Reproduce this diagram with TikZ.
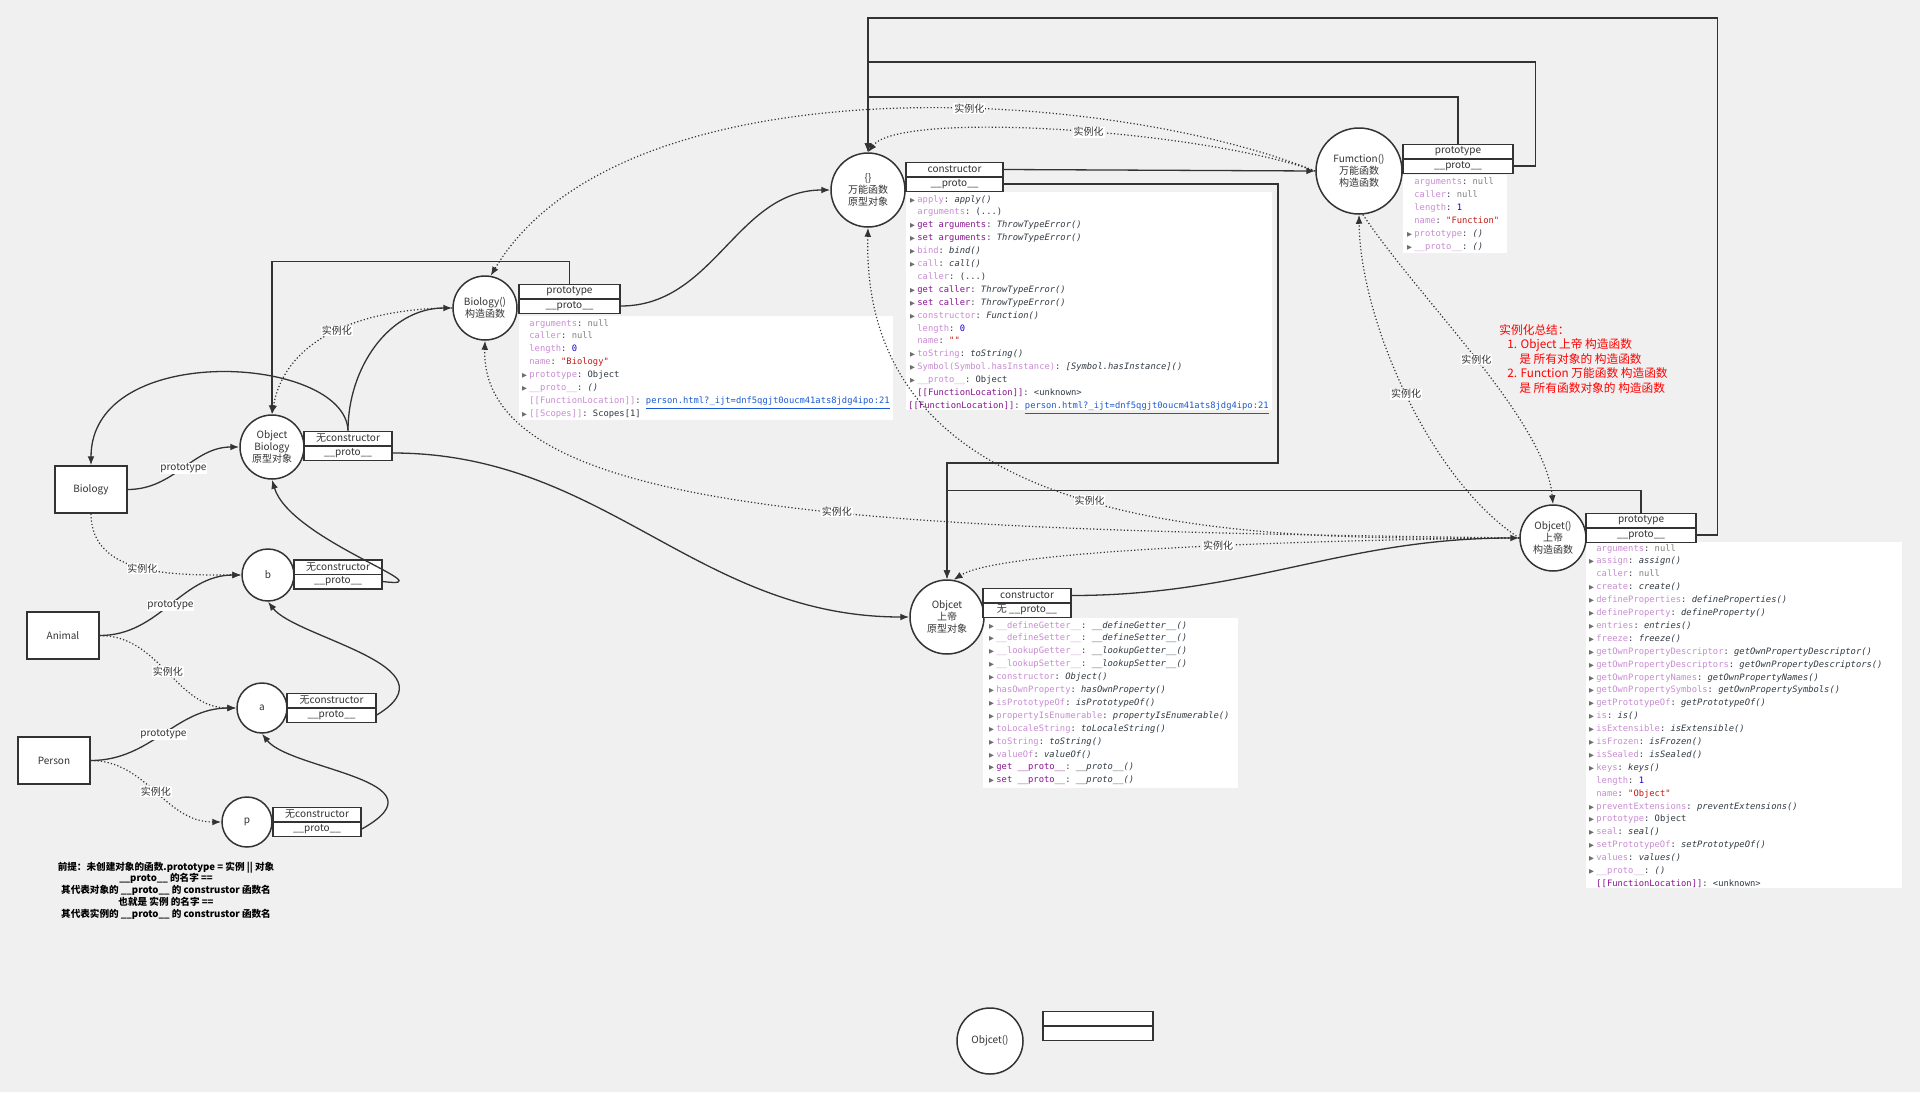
\documentclass[tikz,border=0pt]{standalone}
\usepackage{fontspec}
\setmainfont{Noto Sans CJK SC}
\setmonofont{DejaVu Sans Mono}
\newfontfamily\symfnt{DejaVu Sans}
\usetikzlibrary{arrows.meta}

\definecolor{bgc}{RGB}{240,240,240}
\definecolor{linec}{RGB}{51,51,51}
\definecolor{jsprop}{RGB}{200,140,210}
\definecolor{jsacc}{RGB}{136,19,145}
\definecolor{jsval}{RGB}{48,57,66}
\definecolor{jsgray}{RGB}{128,128,128}
\definecolor{jsnumc}{RGB}{28,0,207}
\definecolor{jsstrc}{RGB}{196,26,22}
\definecolor{jslinkc}{RGB}{26,90,210}
\definecolor{jstric}{RGB}{110,110,110}

\newcommand\jsp[1]{\textcolor{jsprop}{#1}}
\newcommand\jsa[1]{\textcolor{jsacc}{#1}}
\newcommand\jsf[1]{\textit{#1}}
\newcommand\jsnull{\textcolor{jsgray}{null}}
\newcommand\jsnum[1]{\textcolor{jsnumc}{#1}}
\newcommand\jsstr[1]{\textcolor{jsstrc}{#1}}
\newcommand\jslink[1]{\textcolor{jslinkc}{\underline{#1}}}
\newcommand\jsdots{(...)}
\newcommand\jstri{\llap{\textcolor{jstric}{\symfnt\fontsize{3.2}{3.2}\selectfont ▶}\hspace{1.2pt}}}

\begin{document}
\begin{tikzpicture}[x=0.5pt, y=-0.5pt,
    conn/.style={draw=linec, line width=0.65pt},
    inst/.style={draw=linec, line width=0.6pt, dash pattern=on 0.6pt off 1.1pt},
    arr/.style={-{Latex[length=4.5pt,width=3.4pt]}},
    circ/.style={circle, draw=linec, line width=0.75pt, fill=white, text=linec, align=center, inner sep=0pt, font=\fontsize{5}{6}\selectfont},
    field/.style={rectangle, draw=linec, line width=0.75pt, fill=white, text=linec, inner sep=0pt, minimum height=7.25pt, font=\fontsize{5}{5}\selectfont},
    cls/.style={rectangle, draw=linec, line width=0.7pt, fill=white, text=linec, minimum width=36pt, minimum height=23.5pt, font=\fontsize{5}{6}\selectfont},
    lbl/.style={fill=white, text=linec, inner sep=0.4pt, font=\fontsize{5}{5}\selectfont},
    jsline/.style={anchor=base west, inner sep=0pt, text=jsval, font=\ttfamily\fontsize{4.4}{5}\selectfont},
    note/.style={align=center, inner sep=0pt, text=black, font=\bfseries\fontsize{4.8}{5.9}\selectfont},
    summary/.style={anchor=west, align=left, inner sep=0pt, text=red, font=\fontsize{5.85}{7.25}\selectfont}]
  \useasboundingbox (0,0) rectangle (1920,1092);
  \fill[bgc] (0,0) rectangle (1920,1092);

  % white property panels
  \fill[white] (519,316) rectangle (893,420);
  \fill[white] (906,192) rectangle (1272,410);
  \fill[white] (1403,175) rectangle (1507,253);
  \fill[white] (983,618) rectangle (1238,788);
  \fill[white] (1586,542) rectangle (1902,888);

  % Biology() panel
  \foreach \jl [count=\i] in {
      {\jsp{arguments}: \jsnull},
      {\jsp{caller}: \jsnull},
      {\jsp{length}: \jsnum{0}},
      {\jsp{name}: \jsstr{"Biology"}},
      {\jstri\jsp{prototype}: Object},
      {\jstri\jsp{\_\_proto\_\_}: \jsf{()}},
      {\jsp{[[FunctionLocation]]}: \jslink{person.html?\_ijt=dnf5qgjt0oucm41ats8jdg4ipo:21}},
      {\jstri\jsp{[[Scopes]]}: Scopes[1]}}
    \node[jsline] (biol\i) at (529,{326+(\i-1)*12.9}) {\jl};

  % {} panel
  \foreach \jl [count=\i] in {
      {\jstri\jsp{apply}: \jsf{apply()}},
      {\jsp{arguments}: \jsdots},
      {\jstri\jsa{get arguments}: \jsf{ThrowTypeError()}},
      {\jstri\jsa{set arguments}: \jsf{ThrowTypeError()}},
      {\jstri\jsp{bind}: \jsf{bind()}},
      {\jstri\jsp{call}: \jsf{call()}},
      {\jsp{caller}: \jsdots},
      {\jstri\jsa{get caller}: \jsf{ThrowTypeError()}},
      {\jstri\jsa{set caller}: \jsf{ThrowTypeError()}},
      {\jstri\jsp{constructor}: \jsf{Function()}},
      {\jsp{length}: \jsnum{0}},
      {\jsp{name}: \jsstr{""}},
      {\jstri\jsp{toString}: \jsf{toString()}},
      {\jstri\jsp{Symbol(Symbol.hasInstance)}: \jsf{[Symbol.hasInstance]()}},
      {\jstri\jsp{\_\_proto\_\_}: Object},
      {\jsa{[[FunctionLocation]]}: <unknown>},
      {\hspace*{-4.5pt}\jsa{[[FunctionLocation]]}: \jslink{person.html?\_ijt=dnf5qgjt0oucm41ats8jdg4ipo:21}}}
    \node[jsline] (protol\i) at (917,{202+(\i-1)*12.9}) {\jl};

  % Function() panel
  \foreach \jl [count=\i] in {
      {\jsp{arguments}: \jsnull},
      {\jsp{caller}: \jsnull},
      {\jsp{length}: \jsnum{1}},
      {\jsp{name}: \jsstr{"Function"}},
      {\jstri\jsp{prototype}: \jsf{()}},
      {\jstri\jsp{\_\_proto\_\_}: \jsf{()}}}
    \node[jsline] (funl\i) at (1414,{184+(\i-1)*13}) {\jl};

  % Objcet panel
  \foreach \jl [count=\i] in {
      {\jstri\jsp{\_\_defineGetter\_\_}: \jsf{\_\_defineGetter\_\_()}},
      {\jstri\jsp{\_\_defineSetter\_\_}: \jsf{\_\_defineSetter\_\_()}},
      {\jstri\jsp{\_\_lookupGetter\_\_}: \jsf{\_\_lookupGetter\_\_()}},
      {\jstri\jsp{\_\_lookupSetter\_\_}: \jsf{\_\_lookupSetter\_\_()}},
      {\jstri\jsp{constructor}: \jsf{Object()}},
      {\jstri\jsp{hasOwnProperty}: \jsf{hasOwnProperty()}},
      {\jstri\jsp{isPrototypeOf}: \jsf{isPrototypeOf()}},
      {\jstri\jsp{propertyIsEnumerable}: \jsf{propertyIsEnumerable()}},
      {\jstri\jsp{toLocaleString}: \jsf{toLocaleString()}},
      {\jstri\jsp{toString}: \jsf{toString()}},
      {\jstri\jsp{valueOf}: \jsf{valueOf()}},
      {\jstri\jsa{get \_\_proto\_\_}: \jsf{\_\_proto\_\_()}},
      {\jstri\jsa{set \_\_proto\_\_}: \jsf{\_\_proto\_\_()}}}
    \node[jsline] (godl\i) at (996,{628+(\i-1)*12.9}) {\jl};

  % Objcet() panel
  \foreach \jl [count=\i] in {
      {\jsp{arguments}: \jsnull},
      {\jstri\jsp{assign}: \jsf{assign()}},
      {\jsp{caller}: \jsnull},
      {\jstri\jsp{create}: \jsf{create()}},
      {\jstri\jsp{defineProperties}: \jsf{defineProperties()}},
      {\jstri\jsp{defineProperty}: \jsf{defineProperty()}},
      {\jstri\jsp{entries}: \jsf{entries()}},
      {\jstri\jsp{freeze}: \jsf{freeze()}},
      {\jstri\jsp{getOwnPropertyDescriptor}: \jsf{getOwnPropertyDescriptor()}},
      {\jstri\jsp{getOwnPropertyDescriptors}: \jsf{getOwnPropertyDescriptors()}},
      {\jstri\jsp{getOwnPropertyNames}: \jsf{getOwnPropertyNames()}},
      {\jstri\jsp{getOwnPropertySymbols}: \jsf{getOwnPropertySymbols()}},
      {\jstri\jsp{getPrototypeOf}: \jsf{getPrototypeOf()}},
      {\jstri\jsp{is}: \jsf{is()}},
      {\jstri\jsp{isExtensible}: \jsf{isExtensible()}},
      {\jstri\jsp{isFrozen}: \jsf{isFrozen()}},
      {\jstri\jsp{isSealed}: \jsf{isSealed()}},
      {\jstri\jsp{keys}: \jsf{keys()}},
      {\jsp{length}: \jsnum{1}},
      {\jsp{name}: \jsstr{"Object"}},
      {\jstri\jsp{preventExtensions}: \jsf{preventExtensions()}},
      {\jstri\jsp{prototype}: Object},
      {\jstri\jsp{seal}: \jsf{seal()}},
      {\jstri\jsp{setPrototypeOf}: \jsf{setPrototypeOf()}},
      {\jstri\jsp{values}: \jsf{values()}},
      {\jstri\jsp{\_\_proto\_\_}: \jsf{()}},
      {\jsa{[[FunctionLocation]]}: <unknown>}}
    \node[jsline] (ctorl\i) at (1596,{551+(\i-1)*12.9}) {\jl};

  % classes and objects
  \node[cls] (biology) at (91,489.5) {Biology};
  \node[cls] (animal) at (63,635.5) {Animal};
  \node[cls] (person) at (54,760.5) {Person};
  \node[circ, minimum size=32pt] (objbio) at (272,447) {Object\\Biology\\原型对象};
  \node[circ, minimum size=26pt] (b) at (268,575) {b};
  \node[circ, minimum size=25pt] (a) at (262,708) {a};
  \node[circ, minimum size=25pt] (p) at (247,822) {p};
  \node[circ, minimum size=32pt] (bioctor) at (485,308) {Biology()\\构造函数};
  \node[circ, minimum size=37pt] (protoobj) at (868,190) {\{\}\\万能函数\\原型对象};
  \node[circ, minimum size=43pt] (fun) at (1359,171) {Fumction()\\万能函数\\构造函数};
  \node[circ, minimum size=37pt] (objgod) at (947,617) {Objcet\\上帝\\原型对象};
  \node[circ, minimum size=33pt] (objctor) at (1553,538) {Objcet()\\上帝\\构造函数};
  \node[circ, minimum size=33pt] (objnew) at (990,1041) {Objcet()};

  % fields
  \node[field, minimum width=44pt] (objbio-c) at (348,438.5) {无constructor};
  \node[field, minimum width=44pt] (objbio-p) at (348,453) {\_\_proto\_\_};
  \node[field, minimum width=44pt] (b-c) at (338,567) {无constructor};
  \node[field, minimum width=44pt] (b-p) at (338,581.5) {\_\_proto\_\_};
  \node[field, minimum width=44.5pt] (a-c) at (331.5,700.5) {无constructor};
  \node[field, minimum width=44.5pt] (a-p) at (331.5,715) {\_\_proto\_\_};
  \node[field, minimum width=44pt] (p-c) at (317,814.5) {无constructor};
  \node[field, minimum width=44pt] (p-p) at (317,829) {\_\_proto\_\_};
  \node[field, minimum width=50.5pt] (bioctor-t) at (569.5,291.5) {prototype};
  \node[field, minimum width=50.5pt] (bioctor-p) at (569.5,306) {\_\_proto\_\_};
  \node[field, minimum width=48.5pt] (protoobj-c) at (954.5,169.5) {constructor};
  \node[field, minimum width=48.5pt] (protoobj-p) at (954.5,184) {\_\_proto\_\_};
  \node[field, minimum width=55pt] (fun-t) at (1458,151.5) {prototype};
  \node[field, minimum width=55pt] (fun-p) at (1458,166) {\_\_proto\_\_};
  \node[field, minimum width=44pt] (objgod-c) at (1027,595.5) {constructor};
  \node[field, minimum width=44pt] (objgod-p) at (1027,610) {无 \_\_proto\_\_};
  \node[field, minimum width=55pt] (objctor-t) at (1641,520.5) {prototype};
  \node[field, minimum width=55pt] (objctor-p) at (1641,535) {\_\_proto\_\_};
  \node[field, minimum width=55pt] (objnew-t) at (1098,1018.5) {};
  \node[field, minimum width=55pt] (objnew-p) at (1098,1033) {};

  % prototype / instance links on the left
  \draw[conn,arr] (biology.east) to[out=0,in=180] node[lbl] (lb1) {prototype} (objbio.west);
  \draw[inst,arr] (biology.south) to[out=-90,in=180] node[lbl] (lb2) {实例化} (b.west);
  \draw[conn,arr] (animal.east) to[out=0,in=180] node[lbl] (lb3) {prototype} (b.west);
  \draw[inst,arr] (animal.east) to[out=0,in=180] node[lbl] (lb4) {实例化} (a.west);
  \draw[conn,arr] (person.east) to[out=0,in=180] node[lbl] (lb5) {prototype} (a.west);
  \draw[inst,arr] (person.east) to[out=0,in=180] node[lbl] (lb6) {实例化} (p.west);

  % __proto__ chain
  \draw[conn,arr] (p-p.east) .. controls (450,780) and (290,770) .. (a.south);
  \draw[conn,arr] (a-p.east) .. controls (458,666) and (296,638) .. (b.south);
  \draw[conn,arr] (b-p.east) .. controls (450,590) and (290,540) .. (objbio.south);
  \draw[conn,arr] (objbio-c.north) .. controls (345,355) and (91,340) .. (biology.north);
  \draw[conn,arr] (objbio-c.north) to[out=90,in=180] (bioctor.west);
  \draw[inst,arr] (bioctor.west) to[out=180,in=80] node[lbl] (lb7) {实例化} (objbio.north);
  \draw[conn,arr] (bioctor-t.north) -- ++(0,-22) -| (objbio.north);
  \draw[conn,arr] (bioctor-p.east) to[out=0,in=180] (protoobj.west);
  \draw[conn,arr] (objbio-p.east) to[out=0,in=180] (objgod.west);

  % orthogonal links
  \draw[conn,arr] (protoobj-p.east) -| (1278,463) -| (objgod.north);
  \draw[conn,arr] (objctor-t.north) -- ++(0,-22) -| (objgod.north);
  \draw[conn,arr] (objctor-p.east) -- ++(21,0) |- (protoobj.north |- 0,18) -- (protoobj.north);
  \draw[conn,arr] (fun-p.east) -- ++(22,0) |- (protoobj.north |- 0,62) -- (protoobj.north);
  \draw[conn,arr] (fun-t.north) |- (protoobj.north |- 0,97) -- (protoobj.north);
  \draw[conn,arr] (protoobj-c.east) -- (fun.west);
  \draw[conn,arr] (objgod-c.east) to[out=0,in=180] (objctor.west);

  % instantiation links on the right
  \draw[inst,arr] (fun.west) .. controls (1100,85) and (620,60) .. node[lbl, pos=0.4] (lb8) {实例化} (bioctor.80);
  \draw[inst,arr] (fun.west) .. controls (1200,130) and (900,110) .. node[lbl, pos=0.45] (lb9) {实例化} (protoobj.north);
  \draw[inst,arr] (objctor.west) .. controls (1430,480) and (1360,320) .. node[lbl] (lb10) {实例化} (fun.south);
  \draw[inst,arr] (fun.-85) .. controls (1420,300) and (1545,420) .. node[lbl] (lb11) {实例化} (objctor.north);
  \draw[inst,arr] (objctor.west) .. controls (1250,540) and (860,540) .. node[lbl] (lb12) {实例化} (protoobj.south);
  \draw[inst,arr] (objctor.west) .. controls (900,530) and (480,520) .. node[lbl, pos=0.44] (lb13) {实例化} (bioctor.south);
  \draw[inst,arr] (objctor.west) .. controls (1300,540) and (1000,550) .. node[lbl, pos=0.43] (lb14) {实例化} (objgod.80);

  % notes
  \node[note] (premise) at (166,890.5) {前提：未创建对象的函数.prototype = 实例 || 对象\\\_\_proto\_\_ 的名字 ==\\其代表对象的 \_\_proto\_\_ 的 construstor 函数名\\也就是 实例 的名字 ==\\其代表实例的 \_\_proto\_\_ 的 construstor 函数名};
  \node[summary] (summary) at (1499,359) {实例化总结：\\\hspace*{4pt}1. Object 上帝 构造函数\\\hspace*{10pt}是 所有对象的 构造函数\\\hspace*{4pt}2. Function 万能函数 构造函数\\\hspace*{10pt}是 所有函数对象的 构造函数};
\end{tikzpicture}
\end{document}
